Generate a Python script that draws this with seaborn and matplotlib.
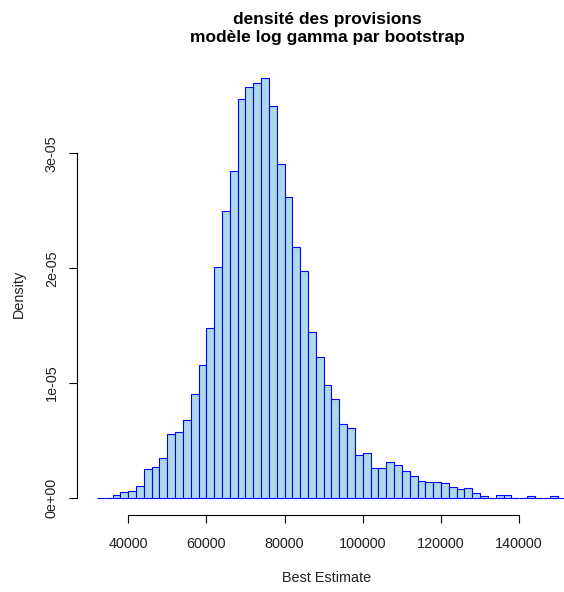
import numpy as np
import pandas as pd
import seaborn as sns
import matplotlib.pyplot as plt

# Histogram: bins of width 2000 starting at 32000
bin_edges = list(range(32000, 152001, 2000))
density_e6 = [
    0.00, 0.00, 0.23, 0.47, 0.56, 1.05, 2.48, 2.70, 3.46, 5.58,
    5.69, 6.74, 9.04, 11.54, 14.79, 20.14, 25.02, 28.45, 34.79, 35.83,
    36.12, 36.56, 34.15, 29.09, 26.18, 21.82, 19.73, 14.47, 12.27, 9.85,
    8.57, 6.40, 6.07, 3.69, 3.89, 2.59, 2.59, 3.11, 2.88, 2.30,
    1.92, 1.42, 1.34, 1.34, 1.25, 0.90, 0.73, 0.82, 0.38, 0.12,
    0.00, 0.20, 0.20, 0.00, 0.00, 0.12, 0.00, 0.00, 0.12, 0.00,
]
x_ticks = [40000, 60000, 80000, 100000, 120000, 140000]
y_ticks = [0, 1e-05, 2e-05, 3e-05]
y_tick_labels = ["0e+00", "1e-05", "2e-05", "3e-05"]

edges = np.array(bin_edges)
df = pd.DataFrame({
    "best_estimate": (edges[:-1] + edges[1:]) / 2,
    "density": np.array(density_e6) * 1e-6,
})

sns.set_theme(style="white")
plt.rcParams["font.family"] = ["Liberation Sans", "DejaVu Sans"]

fig = plt.figure(figsize=(5.64, 5.92), dpi=100)
# plot region like R: left edge at 77px, spans past the right border
ax = fig.add_axes([77 / 564, 77.5 / 592, 500 / 564, 452.8 / 592])

sns.histplot(
    data=df,
    x="best_estimate",
    weights="density",
    bins=bin_edges,
    stat="count",
    color="lightblue",
    edgecolor="blue",
    linewidth=0.8,
    alpha=1,
    ax=ax,
)

ax.set_xlim(26900, 154800)
ax.set_ylim(-1.46e-06, 3.80e-05)

for side in ["top", "right"]:
    ax.spines[side].set_visible(False)
ax.spines["left"].set_bounds(0, 3e-05)
ax.spines["bottom"].set_bounds(40000, 140000)
for side in ["left", "bottom"]:
    ax.spines[side].set_color("black")
    ax.spines[side].set_linewidth(0.8)

ax.set_xticks(x_ticks)
ax.set_xticklabels([str(v) for v in x_ticks])
ax.set_yticks(y_ticks)
ax.set_yticklabels(y_tick_labels, rotation=90, va="center")
ax.tick_params(axis="x", length=6, width=0.8, color="black", pad=10,
               labelsize=10.4, labelcolor="#222222", bottom=True)
ax.tick_params(axis="y", length=6, width=0.8, color="black", pad=7,
               labelsize=10.4, labelcolor="#222222", left=True)

ax.set_xlabel("Best Estimate", fontsize=10.4, color="#222222")
ax.set_ylabel("Density", fontsize=10.4, color="#222222")
ax.xaxis.set_label_coords(0.5, -0.125)
ax.yaxis.set_label_coords(-0.102, 0.487)

ax.set_title("densité des provisions\nmodèle log gamma par bootstrap",
             fontsize=12.5, fontweight="bold", color="black",
             linespacing=1.2, pad=14.5)

plt.savefig("out.png", dpi=100)
